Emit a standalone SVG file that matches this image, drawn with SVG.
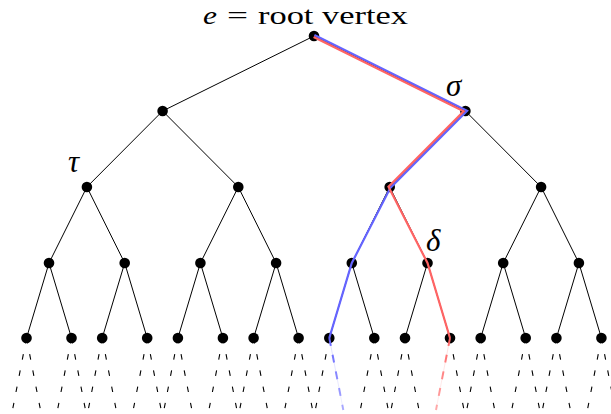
<svg xmlns="http://www.w3.org/2000/svg" width="611" height="414" viewBox="0 0 611 414">
<style>
.e{stroke:#000;stroke-width:1;fill:none}
.d{stroke:#000;stroke-width:1.1;fill:none;stroke-dasharray:5.5 11}
.n{fill:#000}
.lbl{font-family:"Liberation Serif",serif;font-size:25px;fill:#000}
.gk{font-family:"Liberation Serif",serif;font-size:31px;font-style:italic;fill:#000}
.it{font-style:italic}
.blue{stroke:#6464ff;stroke-width:2.2;fill:none;stroke-linejoin:miter}
.red{stroke:#ff6464;stroke-width:2.2;fill:none;stroke-linejoin:miter}
</style>
<defs>
<linearGradient id="gb" gradientUnits="userSpaceOnUse" x1="329" y1="338" x2="343" y2="410">
<stop offset="0" stop-color="#6464ff"/><stop offset="1" stop-color="#6464ff" stop-opacity="0.5"/>
</linearGradient>
<linearGradient id="gr" gradientUnits="userSpaceOnUse" x1="450" y1="338" x2="436" y2="410">
<stop offset="0" stop-color="#ff6464"/><stop offset="1" stop-color="#ff6464" stop-opacity="0.5"/>
</linearGradient>
</defs>
<g id="connectors">
<path class="e" d="M314 36L162.6 111M314 36L465.4 111
M162.6 111L86.9 187M162.6 111L238.3 187M465.4 111L389.7 187M465.4 111L541.1 187
M86.9 187L49 263M86.9 187L124.7 263M238.3 187L200.4 263M238.3 187L276.1 263
M389.7 187L351.8 263M389.7 187L427.5 263M541.1 187L503.2 263M541.1 187L578.9 263
M49 263L26.5 338M49 263L71.5 338M124.7 263L102.2 338M124.7 263L147.2 338
M200.4 263L177.9 338M200.4 263L222.9 338M276.1 263L253.6 338M276.1 263L298.6 338
M351.8 263L329.3 338M351.8 263L374.3 338M427.5 263L405 338M427.5 263L450 338
M503.2 263L480.7 338M503.2 263L525.7 338M578.9 263L556.4 338M578.9 263L601.4 338"/>
<path class="d" d="M26.5 338L12.5 410M26.5 338L40.5 410M71.5 338L57.5 410M71.5 338L85.5 410
M102.2 338L88.2 410M102.2 338L116.2 410M147.2 338L133.2 410M147.2 338L161.2 410
M177.9 338L163.9 410M177.9 338L191.9 410M222.9 338L208.9 410M222.9 338L236.9 410
M253.6 338L239.6 410M253.6 338L267.6 410M298.6 338L284.6 410M298.6 338L312.6 410
M329.3 338L315.3 410M374.3 338L360.3 410M374.3 338L388.3 410
M405 338L391 410M405 338L419 410M450 338L464 410
M480.7 338L466.7 410M480.7 338L494.7 410M525.7 338L511.7 410M525.7 338L539.7 410
M556.4 338L542.4 410M556.4 338L570.4 410M601.4 338L587.4 410M601.4 338L615.4 410"/>
</g>
<g id="root"><circle class="n" cx="314" cy="36" r="5.3"/></g>
<g id="n1a"><circle class="n" cx="162.6" cy="111" r="5.3"/></g>
<g id="sigma"><circle class="n" cx="465.4" cy="111" r="5.3"/></g>
<g id="tau"><circle class="n" cx="86.9" cy="187" r="5.3"/></g>
<g id="n2b"><circle class="n" cx="238.3" cy="187" r="5.3"/></g>
<g id="n2c"><circle class="n" cx="389.7" cy="187" r="5.3"/></g>
<g id="n2d"><circle class="n" cx="541.1" cy="187" r="5.3"/></g>
<g id="n3a"><circle class="n" cx="49" cy="263" r="5.3"/></g>
<g id="n3b"><circle class="n" cx="124.7" cy="263" r="5.3"/></g>
<g id="n3c"><circle class="n" cx="200.4" cy="263" r="5.3"/></g>
<g id="n3d"><circle class="n" cx="276.1" cy="263" r="5.3"/></g>
<g id="n3e"><circle class="n" cx="351.8" cy="263" r="5.3"/></g>
<g id="delta"><circle class="n" cx="427.5" cy="263" r="5.3"/></g>
<g id="n3g"><circle class="n" cx="503.2" cy="263" r="5.3"/></g>
<g id="n3h"><circle class="n" cx="578.9" cy="263" r="5.3"/></g>
<g id="l1"><circle class="n" cx="26.5" cy="338" r="5.3"/></g>
<g id="l2"><circle class="n" cx="71.5" cy="338" r="5.3"/></g>
<g id="l3"><circle class="n" cx="102.2" cy="338" r="5.3"/></g>
<g id="l4"><circle class="n" cx="147.2" cy="338" r="5.3"/></g>
<g id="l5"><circle class="n" cx="177.9" cy="338" r="5.3"/></g>
<g id="l6"><circle class="n" cx="222.9" cy="338" r="5.3"/></g>
<g id="l7"><circle class="n" cx="253.6" cy="338" r="5.3"/></g>
<g id="l8"><circle class="n" cx="298.6" cy="338" r="5.3"/></g>
<g id="l9"><circle class="n" cx="329.3" cy="338" r="5.3"/></g>
<g id="l10"><circle class="n" cx="374.3" cy="338" r="5.3"/></g>
<g id="l11"><circle class="n" cx="405" cy="338" r="5.3"/></g>
<g id="l12"><circle class="n" cx="450" cy="338" r="5.3"/></g>
<g id="l13"><circle class="n" cx="480.7" cy="338" r="5.3"/></g>
<g id="l14"><circle class="n" cx="525.7" cy="338" r="5.3"/></g>
<g id="l15"><circle class="n" cx="556.4" cy="338" r="5.3"/></g>
<g id="l16"><circle class="n" cx="601.4" cy="338" r="5.3"/></g>
<g id="paths">
<polyline class="blue" points="314.4,35.1 467.1,110.7 390.5,187.6 351.8,263 329.3,338"/>
<polyline class="red" points="313.6,36.9 463.7,111.3 388.5,186.8 427.5,263 450,338"/>
<path d="M329.3 338L343.3 410" stroke="url(#gb)" stroke-width="0.6" opacity="0.35" fill="none"/>
<path d="M450 338L436 410" stroke="url(#gr)" stroke-width="0.6" opacity="0.35" fill="none"/>
<path d="M329.3 338L343.3 410" stroke="url(#gb)" stroke-width="2" stroke-dasharray="8 9" fill="none"/>
<path d="M450 338L436 410" stroke="url(#gr)" stroke-width="2" stroke-dasharray="8 9" fill="none"/>
</g>
<g id="labels">
<text class="lbl it" x="203" y="24" textLength="14" lengthAdjust="spacingAndGlyphs">e</text>
<text class="lbl" x="227" y="24" textLength="21" lengthAdjust="spacingAndGlyphs">=</text>
<text class="lbl" x="258" y="24" textLength="150" lengthAdjust="spacingAndGlyphs">root vertex</text>
<text class="gk" x="446" y="96">σ</text>
<text class="gk" x="426" y="251">δ</text>
<text class="gk" x="68" y="172">τ</text>
</g>
</svg>
